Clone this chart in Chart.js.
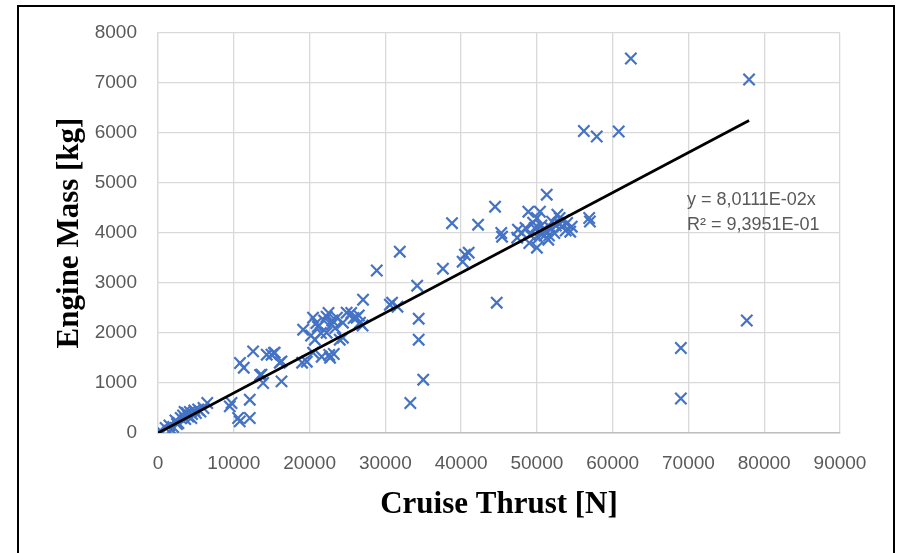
<!DOCTYPE html>
<html>
<head>
<meta charset="utf-8">
<script src="https://cdn.jsdelivr.net/npm/chart.js@4/dist/chart.umd.min.js"></script>
<style>
  html, body { margin: 0; padding: 0; background: #ffffff; }
  #wrap { position: relative; width: 898px; height: 553px; overflow: hidden; }
  #frame { position: absolute; left: 17px; top: 5px; width: 874px; height: 600px; border: 2px solid #000; box-sizing: content-box; }
  canvas { position: absolute; left: 0; top: 0; }
</style>
</head>
<body>
<div id="wrap">
  <div id="frame"></div>
  <canvas id="c" width="898" height="553"></canvas>
</div>
<script>
// Cruise thrust [N]
const thrustN = [
  200, 300, 1000, 1500, 1800, 2000, 2300, 2500, 2700, 3000, 3300, 3500, 3600, 3800, 4000, 4200, 4400, 4500, 4800, 5000, 5300, 5600, 6000, 6500,
  9470, 9700, 10570, 10790, 10820, 11320, 12110, 12110, 12550, 13470, 13660, 13870, 14350, 14980, 15300, 15400, 16070, 16300, 16300,
  19020, 19150, 19640, 20200, 20460, 20460, 20700, 21100, 21500, 21600, 22250, 22250, 22500, 22600, 22700, 22920, 23000, 23200, 23610, 23980, 24400, 24400, 24900, 25500, 26200, 26500, 26650, 27000, 27060,
  21900, 23400, 25800, 20900,
  28870, 30600, 30890, 31600, 31910, 33300, 34200, 34400, 34400, 35000, 37600, 38800, 40200, 40500, 41000, 42240, 44480, 44700, 45300, 45400,
  47400, 47500, 48000, 48500, 48870, 49000, 49100, 49500, 50000, 50000, 50200, 50400, 50500, 50800, 51000, 51200, 51300, 51500, 51800, 52000, 52300, 52500, 52700, 53000, 53300, 53500, 53800, 54000, 54400, 54600, 56900, 57000,
  49700, 50600, 51600, 52900,
  56200, 57900, 60800, 62400, 78000, 77700, 69000, 69000
];
// Engine mass [kg]
const massKg = [
  30, 50, 100, 150, 60, 120, 250, 180, 200, 300, 350, 420, 280, 400, 330, 420, 300, 380, 450, 400, 470, 430, 500, 600,
  533, 600, 300, 233, 1400, 1306, 666, 300, 1633, 1160, 1166, 1000, 1566, 1566, 1600, 1606, 1406, 1433, 1033,
  1406, 2066, 1426, 1950, 2306, 1606, 1866, 2126, 2000, 1526, 2326, 2006, 2400, 1560, 1506, 2166, 2250, 1580, 2306, 1866, 2206, 1906, 2406, 2400, 2306, 2350, 2206, 2150, 2666,
  2250, 2100, 2300, 2200,
  3250, 2566, 2606, 2526, 3626, 600, 2946, 2286, 1866, 1066, 3286, 4196, 3426, 3566, 3606, 4166, 4526, 2606, 4000, 3926,
  3906, 4066, 4000, 4100, 4426, 3800, 3966, 4206, 3706, 4300, 3900, 4426, 4000, 4066, 3950, 4050, 4766, 3866, 4100, 4226, 4000, 4150, 4366, 4300, 4126, 4250, 4050, 4200, 4026, 4126, 4300, 4230,
  4100, 4150, 3950, 4200,
  6040, 5930, 6030, 7490, 7070, 2250, 1700, 690
];
// Trendline from the chart label: y = 8,0111E-02x ; R² = 9,3951E-01
const trendSlope = 0.080111;
const trendLabel = ['y = 8,0111E-02x', 'R\u00B2 = 9,3951E-01'];
const xTickLabels = ['0', '10000', '20000', '30000', '40000', '50000', '60000', '70000', '80000', '90000'];
const yTickLabels = ['0', '1000', '2000', '3000', '4000', '5000', '6000', '7000', '8000'];

const points = thrustN.map((x, i) => ({ x: x, y: massKg[i] }));
const xMaxData = Math.max(...thrustN);
const trend = [{ x: 0, y: 0 }, { x: xMaxData, y: trendSlope * xMaxData }];

const tickFont = { family: 'Liberation Sans', size: 19 };
const titleFont = { family: 'Liberation Serif', size: 31, weight: 'bold' };

const labelPlugin = {
  id: 'trendLabel',
  afterDatasetsDraw(chart) {
    const { ctx, scales } = chart;
    ctx.save();
    ctx.font = '18px "Liberation Sans"';
    ctx.fillStyle = '#595959';
    ctx.textAlign = 'left';
    ctx.textBaseline = 'middle';
    const lx = scales.x.getPixelForValue(69800);
    ctx.fillText(trendLabel[0], lx, scales.y.getPixelForValue(4666));
    ctx.fillText(trendLabel[1], lx, scales.y.getPixelForValue(4166));
    ctx.restore();
  }
};

new Chart(document.getElementById('c'), {
  type: 'scatter',
  data: {
    datasets: [
      {
        label: 'Engines',
        data: points,
        pointStyle: 'crossRot',
        pointRadius: 8,
        pointBorderWidth: 2.2,
        borderColor: '#4472C4',
        backgroundColor: 'rgba(0,0,0,0)',
        order: 2
      },
      {
        type: 'line',
        label: 'Trend',
        data: trend,
        borderColor: '#000000',
        borderWidth: 2.8,
        pointRadius: 0,
        fill: false,
        order: 1
      }
    ]
  },
  options: {
    responsive: false,
    devicePixelRatio: 1,
    animation: false,
    layout: { padding: { left: 0, top: 33, right: 58, bottom: 0 } },
    plugins: { legend: { display: false }, tooltip: { enabled: false } },
    scales: {
      x: {
        type: 'linear',
        min: 0, max: 90000,
        afterFit(s) { s.height = 120; },
        ticks: { stepSize: 10000, font: tickFont, color: '#595959', padding: 19, maxRotation: 0,
                 callback: (v, i) => xTickLabels[i] },
        grid: { color: '#d9d9d9', lineWidth: 1.3, drawTicks: false },
        border: { color: '#bfbfbf', width: 1.5 },
        title: { display: true, text: 'Cruise Thrust [N]', font: titleFont, color: '#000', padding: { top: 0, bottom: 29 } }
      },
      y: {
        type: 'linear',
        min: 0, max: 8000,
        afterFit(s) { s.width = 158; },
        ticks: { stepSize: 1000, font: tickFont, color: '#595959', padding: 21,
                 callback: (v, i) => yTickLabels[i] },
        grid: { color: '#d9d9d9', lineWidth: 1.3, drawTicks: false },
        border: { color: '#d9d9d9', width: 1.3 },
        title: { display: true, text: 'Engine Mass [kg]', font: titleFont, color: '#000', padding: { top: 51, bottom: 0 } }
      }
    }
  },
  plugins: [labelPlugin]
});
</script>
</body>
</html>
